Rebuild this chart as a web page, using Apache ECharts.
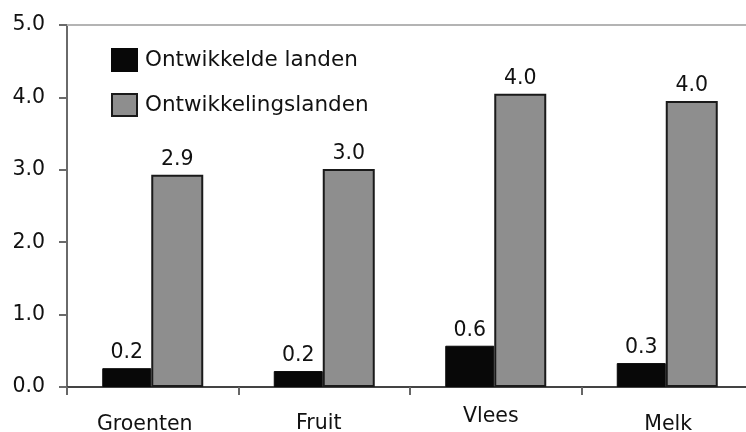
<!DOCTYPE html>
<html>
<head>
<meta charset="utf-8">
<script src="https://cdn.jsdelivr.net/npm/echarts@6/dist/echarts.min.js"></script>
<style>
  html, body { margin: 0; padding: 0; background: #fff; }
  #chart { width: 746px; height: 432px; }
</style>
</head>
<body>
<div id="chart"></div>
<script>
// categories and values
var categories = ['Groenten', 'Fruit', 'Vlees', 'Melk']
var ontwikkeld = [0.26, 0.22, 0.57, 0.33]
var ontwikkelings = [2.93, 3.01, 4.05, 3.95]
var ontwikkeldLabels = ['0.2', '0.2', '0.6', '0.3']
var ontwikkelingsLabels = ['2.9', '3.0', '4.0', '4.0']
var yTicks = ['0.0', '1.0', '2.0', '3.0', '4.0', '5.0']

var font = 'DejaVu Sans'
var dom = echarts.init(document.getElementById('chart'))

var option = {
    animation: false,
    grid: {
        left: 67,
        top: 25,
        width: 686,
        bottom: 45,
        outerBoundsMode: 'none',
        containLabel: false
    },
    legend: {
        orient: 'vertical',
        left: 111,
        top: 48,
        padding: 0,
        itemWidth: 25,
        itemHeight: 22,
        itemGap: 21,
        icon: 'rect',
        textStyle: { fontFamily: font, fontSize: 21.5, color: '#111', padding: [0, 0, 0, 3] },
        data: ['Ontwikkelde landen', 'Ontwikkelingslanden']
    },
    xAxis: [
        {
            type: 'category',
            data: categories,
            axisLine: { lineStyle: { color: '#444', width: 2 } },
            axisTick: { show: true, interval: 0, length: 8, lineStyle: { color: '#666', width: 2 } },
            axisLabel: {
                interval: 0,
                hideOverlap: false,
                margin: 19,
                fontFamily: font,
                fontSize: 20,
                color: '#111',
                formatter: function (v, i) { return '{c' + i + '|' + v + '}' },
                rich: {
                    c0: { fontFamily: font, fontSize: 20.5, color: '#111', padding: [8, 16, 0, 0] },
                    c1: { fontFamily: font, fontSize: 20.5, color: '#111', padding: [7, 11, 0, 0] },
                    c2: { fontFamily: font, fontSize: 20.5, color: '#111', padding: [0, 10, 0, 0] },
                    c3: { fontFamily: font, fontSize: 20.5, color: '#111', padding: [8, 0, 0, 2] }
                }
            }
        },
        {
            type: 'category',
            position: 'top',
            data: categories,
            axisLine: { lineStyle: { color: '#b4b4b4', width: 2 } },
            axisTick: { show: false },
            axisLabel: { show: false }
        }
    ],
    yAxis: {
        type: 'value',
        min: 0,
        max: 5,
        interval: 1,
        axisLine: { show: true, lineStyle: { color: '#6a6a6a', width: 2 } },
        axisTick: { show: true, length: 8, lineStyle: { color: '#6a6a6a', width: 2 } },
        splitLine: { show: false },
        axisLabel: {
            margin: 22,
            fontFamily: font,
            fontSize: 20.5,
            color: '#111',
            formatter: function (v) { return yTicks[Math.round(v)] }
        }
    },
    series: [
        {
            name: 'Ontwikkelde landen',
            type: 'bar',
            barWidth: 49,
            barGap: 0,
            data: ontwikkeld,
            itemStyle: { color: '#080808', borderColor: '#080808', borderWidth: 1 },
            label: {
                show: true,
                position: 'top',
                distance: 5,
                fontFamily: font,
                fontSize: 20.5,
                color: '#111',
                formatter: function (p) { return ontwikkeldLabels[p.dataIndex] }
            }
        },
        {
            name: 'Ontwikkelingslanden',
            type: 'bar',
            barWidth: 52,
            data: ontwikkelings,
            itemStyle: { color: '#8e8e8e', borderColor: '#1a1a1a', borderWidth: 2 },
            label: {
                show: true,
                position: 'top',
                distance: 5,
                fontFamily: font,
                fontSize: 20.5,
                color: '#111',
                formatter: function (p) { return ontwikkelingsLabels[p.dataIndex] }
            }
        }
    ]
}

dom.setOption(option)
window.addEventListener('resize', function () { dom.resize() })
</script>
</body>
</html>
